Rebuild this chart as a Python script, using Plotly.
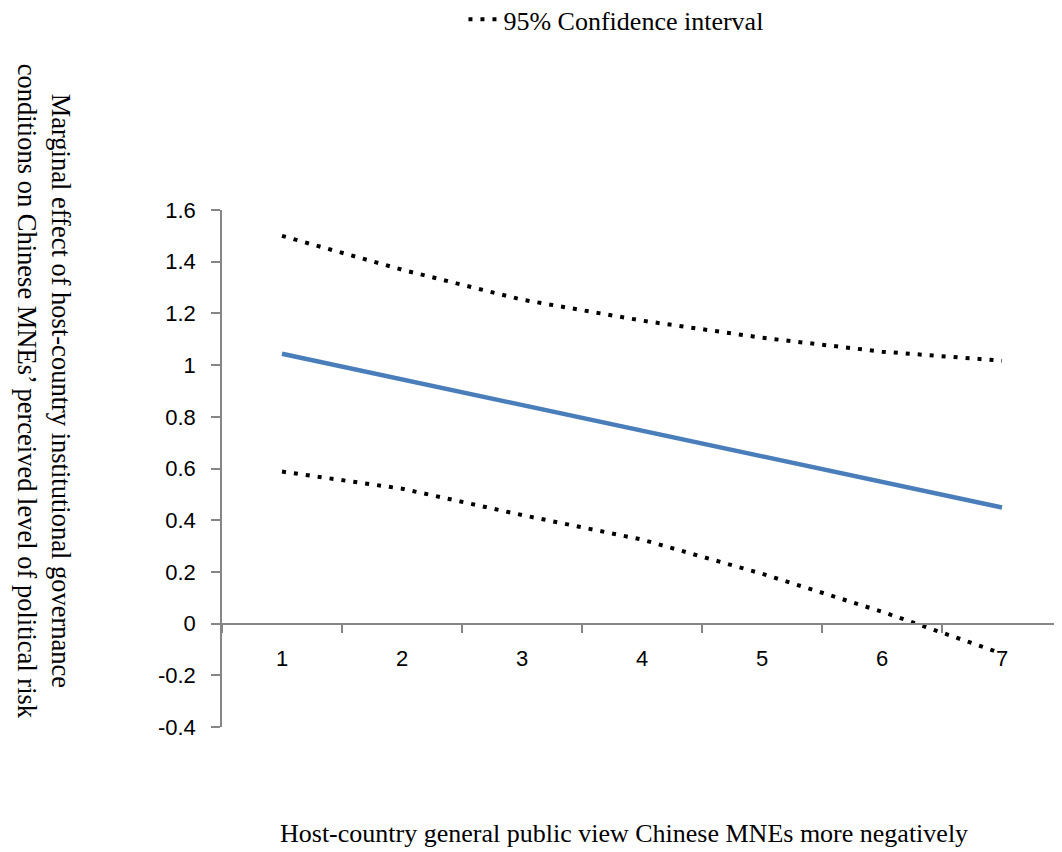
import plotly.graph_objects as go

categories = ["1", "2", "3", "4", "5", "6", "7"]
marginal_effect = [1.044, 0.945, 0.846, 0.747, 0.648, 0.548, 0.449]
ci_upper = [1.500, 1.369, 1.253, 1.172, 1.106, 1.052, 1.017]
ci_lower = [0.588, 0.522, 0.420, 0.325, 0.193, 0.046, -0.116]
y_tick_values = [1.6, 1.4, 1.2, 1.0, 0.8, 0.6, 0.4, 0.2, 0.0, -0.2, -0.4]
y_tick_labels = ["1.6", "1.4", "1.2", "1", "0.8", "0.6", "0.4", "0.2", "0", "-0.2", "-0.4"]
legend_label = "95% Confidence interval"
x_title = "Host-country general public view Chinese MNEs more negatively"
y_title = ("Marginal effect of host-country institutional governance<br>"
           "conditions on Chinese MNEs\u2019 perceived level of political risk")

SERIF = "Liberation Serif, Times New Roman, serif"
SANS = "Liberation Sans, Arial, sans-serif"
AXIS_GREY = "#868686"

fig = go.Figure()
fig.add_trace(go.Scatter(
    x=categories, y=ci_upper, mode="lines", name=legend_label,
    line=dict(color="black", width=4, dash="4px,8px"), showlegend=True))
fig.add_trace(go.Scatter(
    x=categories, y=ci_lower, mode="lines", name=legend_label,
    line=dict(color="black", width=4, dash="4px,8px"), showlegend=False))
fig.add_trace(go.Scatter(
    x=categories, y=marginal_effect, mode="lines", name="Marginal effect",
    line=dict(color="#4A7EBB", width=4.5), showlegend=False))

fig.update_layout(
    width=1054, height=844,
    margin=dict(l=214, r=0, t=202, b=125, autoexpand=False),
    paper_bgcolor="white", plot_bgcolor="white",
    font=dict(family=SANS, color="black"),
    legend=dict(orientation="h", x=0.469, xanchor="center", y=1.414, yanchor="top",
                font=dict(family=SERIF, size=26, color="black"),
                bgcolor="rgba(0,0,0,0)"),
    xaxis=dict(type="category", categoryorder="array", categoryarray=categories,
               range=[-0.5, 6.5], anchor="free", position=0.2,
               showline=True, linecolor=AXIS_GREY, linewidth=1.5,
               ticks="outside", tickson="boundaries", ticklen=9, tickwidth=1.5,
               tickcolor=AXIS_GREY, showgrid=False, zeroline=False,
               ticklabelstandoff=15,
               tickfont=dict(family=SANS, size=22, color="black")),
    yaxis=dict(range=[-0.4, 1.6], tickmode="array", tickvals=y_tick_values,
               ticktext=y_tick_labels, showline=True, linecolor=AXIS_GREY,
               linewidth=1.5, ticks="outside", ticklen=9, tickwidth=1.5,
               tickcolor=AXIS_GREY, showgrid=False, zeroline=False,
               ticklabelstandoff=11,
               tickfont=dict(family=SANS, size=22, color="black")),
)

fig.add_annotation(text=x_title, xref="paper", yref="paper", x=0.479, y=-0.238,
                   showarrow=False, font=dict(family=SERIF, size=26, color="black"))
fig.add_annotation(text=y_title, xref="paper", yref="paper", x=-0.252, y=0.65,
                   textangle=90, showarrow=False,
                   font=dict(family=SERIF, size=26.5, color="black"))

fig.write_html("out.html")
